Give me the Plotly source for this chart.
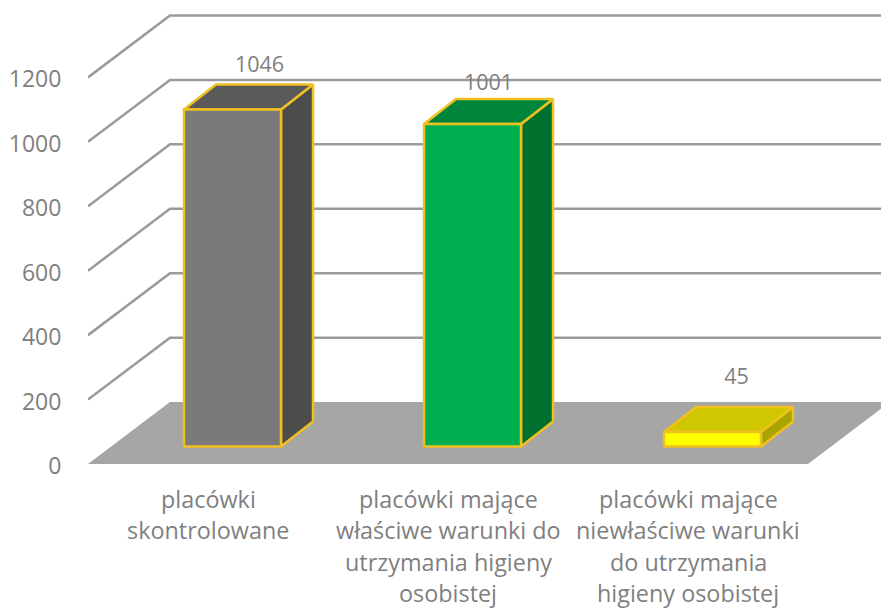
import plotly.graph_objects as go

# ---- data ----
categories = ["placówki skontrolowane",
              "placówki mające właściwe warunki do utrzymania higieny osobistej",
              "placówki mające niewłaściwe warunki do utrzymania higieny osobistej"]
category_lines = [["placówki", "skontrolowane"],
                  ["placówki mające", "właściwe warunki do", "utrzymania higieny", "osobistej"],
                  ["placówki mające", "niewłaściwe warunki", "do utrzymania", "higieny osobistej"]]
values = [1046, 1001, 45]
y_ticks = [0, 200, 400, 600, 800, 1000, 1200]

front_colors = ["#7A7A7A", "#00AF50", "#FFFF00"]
top_colors = ["#5A5A5A", "#00863C", "#CFC800"]
side_colors = ["#4C4C4C", "#00702F", "#A8A400"]
OUTLINE = "#F0C020"
TEXT = "#7F7F7F"
GRID = "#9A9A9A"
FLOOR = "#A6A6A6"
FONT = "Open Sans"

# ---- pseudo-3D projection in axis units (1 x unit = one category band) ----
W, H = 881, 610
BASE_PX, LEFT_PX, BAND_PX, PX_PER_UNIT = 464.5, 88, 240, 0.3225
x_range = [-0.5, -0.5 + (W - LEFT_PX) / BAND_PX]
y_range = [0, BASE_PX / PX_PER_UNIT]
WALL_DX, WALL_DY = 82 / BAND_PX, 62 / PX_PER_UNIT
BAR_DX, BAR_DY = 24.5 / BAND_PX, 17.5 / PX_PER_UNIT
HALF_W = 48.5 / BAND_PX
DEPTH_DX, DEPTH_DY = 32 / BAND_PX, 25 / PX_PER_UNIT
# value-label nudges in pixels (x right, y up), as placed in the reference
label_nudge_x = [11, 0, 8]
label_nudge_y = [-1, -4, 10]

fig = go.Figure()


def poly(xs, ys, fill, line=None, width=2.5):
    fig.add_trace(go.Scatter(
        x=xs + xs[:1], y=ys + ys[:1], mode="lines", fill="toself", fillcolor=fill,
        line=dict(color=line or fill, width=width if line else 0),
        hoverinfo="skip", showlegend=False))


# floor
poly([-0.5, -0.5 + WALL_DX, 2.5 + WALL_DX, 2.5],
     [0, WALL_DY, WALL_DY, 0], FLOOR)

# wall grid and left-wall diagonals
for t in y_ticks[1:]:
    fig.add_trace(go.Scatter(
        x=[-0.5, -0.5 + WALL_DX, 2.5 + WALL_DX], y=[t, t + WALL_DY, t + WALL_DY],
        mode="lines", line=dict(color=GRID, width=2.5), hoverinfo="skip", showlegend=False))

# bars
for i, v in enumerate(values):
    x0 = i + BAR_DX - HALF_W
    x1 = i + BAR_DX + HALF_W
    y0 = BAR_DY
    y1 = BAR_DY + v
    poly([x1, x1 + DEPTH_DX, x1 + DEPTH_DX, x1],
         [y0, y0 + DEPTH_DY, y1 + DEPTH_DY, y1], side_colors[i], OUTLINE)
    poly([x0, x1, x1 + DEPTH_DX, x0 + DEPTH_DX],
         [y1, y1, y1 + DEPTH_DY, y1 + DEPTH_DY], top_colors[i], OUTLINE)
    poly([x0, x1, x1, x0], [y0, y0, y1, y1], front_colors[i], OUTLINE)

# value labels
fig.add_trace(go.Scatter(
    x=[i + BAR_DX + DEPTH_DX / 2 + label_nudge_x[i] / BAND_PX for i in range(len(values))],
    y=[v + BAR_DY + DEPTH_DY + 58 + label_nudge_y[i] / PX_PER_UNIT for i, v in enumerate(values)],
    mode="text", text=[str(v) for v in values],
    textfont=dict(family=FONT, size=21.5, color=TEXT),
    hoverinfo="skip", showlegend=False))

# multi-line category labels
for i, lines in enumerate(category_lines):
    for j, line in enumerate(lines):
        fig.add_annotation(x=i, y=0, xref="x", yref="y", text=line, showarrow=False,
                           xanchor="center", yanchor="middle", yshift=-(35 + 31.3 * j),
                           font=dict(family=FONT, size=23.4, color=TEXT))

fig.update_layout(
    width=W, height=H, margin=dict(l=LEFT_PX, r=0, t=0, b=H - BASE_PX, pad=0),
    paper_bgcolor="white", plot_bgcolor="white", showlegend=False,
    xaxis=dict(range=x_range, showgrid=False, zeroline=False, showline=False,
               tickvals=[0, 1, 2], ticktext=[""] * 3, ticks=""),
    yaxis=dict(range=y_range, showgrid=False, zeroline=False, showline=False,
               tickvals=y_ticks, ticks="outside", ticklen=21, tickcolor="rgba(0,0,0,0)",
               ticklabelshift=2,
               tickfont=dict(family=FONT, size=23, color=TEXT)),
)
fig.write_html("out.html", post_script="document.body.style.margin='0';", config={"displayModeBar": False})
